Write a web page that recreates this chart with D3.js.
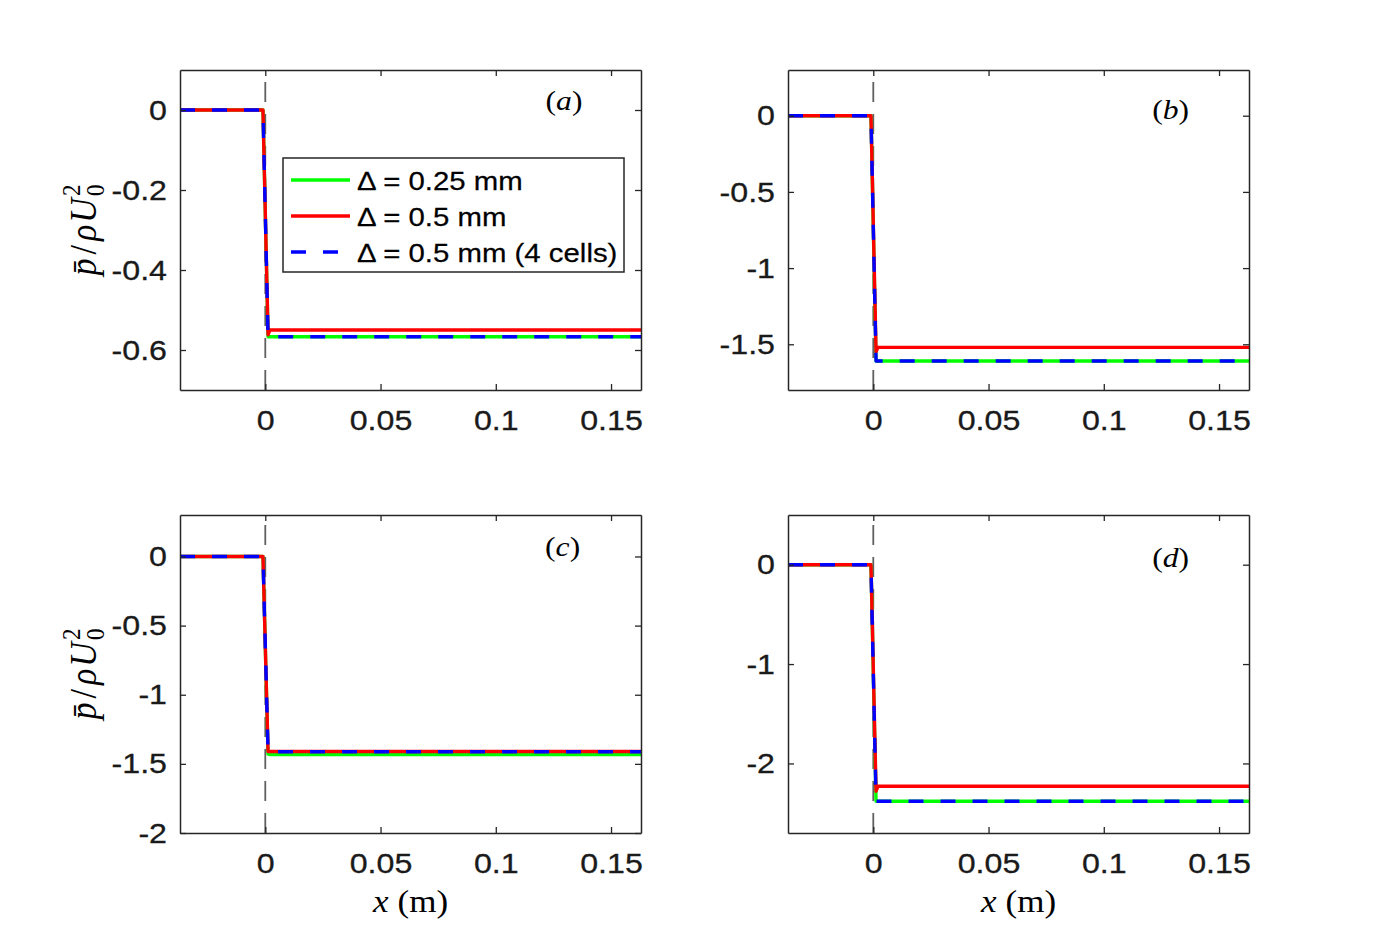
<!DOCTYPE html>
<html>
<head>
<meta charset="utf-8">
<script src="https://cdn.jsdelivr.net/npm/d3@7"></script>
<style>
body { margin: 0; background: #fff; }
</style>
</head>
<body>
<script>
// x grid shared by all pressure profiles (m)
var xPts = [-0.037, -0.001, 0.0012, 0.002, 0.163];

// mean pressure p/rhoU0^2 for each panel, one array per mesh
var greenA = [0, 0, -0.567, -0.567, -0.567];
var redA   = [0, 0, -0.562, -0.550, -0.550];
var blueA  = [0, 0, -0.567, -0.567, -0.567];

var greenB = [0, 0, -1.61, -1.61, -1.61];
var redB   = [0, 0, -1.55, -1.52, -1.52];
var blueB  = [0, 0, -1.61, -1.61, -1.61];

var greenC = [0, 0, -1.43, -1.433, -1.433];
var redC   = [0, 0, -1.41, -1.41, -1.41];
var blueC  = [0, 0, -1.41, -1.412, -1.412];

var greenD = [0, 0, -2.38, -2.38, -2.38];
var redD   = [0, 0, -2.28, -2.23, -2.23];
var blueD  = [0, 0, -2.38, -2.38, -2.38];

var legendNames = ["\u0394 = 0.25 mm", "\u0394 = 0.5 mm", "\u0394 = 0.5 mm (4 cells)"];

var xDomain = [-0.037, 0.163];
var xTicks = [0, 0.05, 0.1, 0.15];
var xTickLabels = ["0", "0.05", "0.1", "0.15"];

var yDomA = [-0.7, 0.1], yTicksA = [0, -0.2, -0.4, -0.6], yLabA = ["0", "-0.2", "-0.4", "-0.6"];
var yDomB = [-1.8, 0.3], yTicksB = [0, -0.5, -1, -1.5], yLabB = ["0", "-0.5", "-1", "-1.5"];
var yDomC = [-2, 0.3], yTicksC = [0, -0.5, -1, -1.5, -2], yLabC = ["0", "-0.5", "-1", "-1.5", "-2"];
var yDomD = [-2.7, 0.5], yTicksD = [0, -1, -2], yLabD = ["0", "-1", "-2"];

var w = 1380, h = 936;
var sx = 1.13;           // the original figure is slightly stretched sideways
var ink = "#262626";
var sans = "'Liberation Sans', Arial, Helvetica, sans-serif";
var serif = "'Liberation Serif', 'Times New Roman', serif";

var panels = [
  {id: "a", box: [180, 641, 70, 390],  yDom: yDomA, yTicks: yTicksA, yLab: yLabA,
   g: greenA, r: redA, b: blueA, tag: [0.1296, 0.02], ylabel: true, xlabel: false, legend: true},
  {id: "b", box: [788, 1249, 70, 390], yDom: yDomB, yTicks: yTicksB, yLab: yLabB,
   g: greenB, r: redB, b: blueB, tag: [0.129, 0.033], ylabel: false, xlabel: false, legend: false},
  {id: "c", box: [180, 641, 515, 833], yDom: yDomC, yTicks: yTicksC, yLab: yLabC,
   g: greenC, r: redC, b: blueC, tag: [0.129, 0.058], ylabel: true, xlabel: true, legend: false},
  {id: "d", box: [788, 1249, 515, 833], yDom: yDomD, yTicks: yTicksD, yLab: yLabD,
   g: greenD, r: redD, b: blueD, tag: [0.129, 0.06], ylabel: false, xlabel: true, legend: false}
];

var svg = d3.select("body")
  .append("svg")
  .attr("width", w)
  .attr("height", h);

function drawPanel(p) {
  var left = p.box[0], right = p.box[1], top = p.box[2], bottom = p.box[3];
  var x = d3.scaleLinear().domain(xDomain).range([left, right]);
  var y = d3.scaleLinear().domain(p.yDom).range([bottom, top]);
  var g = svg.append("g");

  g.append("clipPath").attr("id", "clip" + p.id)
    .append("rect")
    .attr("x", left).attr("y", top)
    .attr("width", right - left).attr("height", bottom - top);

  // dashed line at the step
  g.append("line")
    .attr("x1", x(0)).attr("x2", x(0))
    .attr("y1", bottom).attr("y2", top)
    .attr("stroke", "#444")
    .attr("stroke-opacity", 0.85)
    .attr("stroke-width", 1.8)
    .attr("stroke-dasharray", "20,12");

  var line = d3.line()
    .x(function(d, i) { return x(xPts[i]); })
    .y(function(d) { return y(d); });

  var series = [
    {v: p.g, c: "#00ff00", dash: null},
    {v: p.r, c: "#ff0000", dash: null},
    {v: p.b, c: "#0000ff", dash: "15,17"}
  ];
  g.append("g").attr("clip-path", "url(#clip" + p.id + ")")
    .selectAll("path")
    .data(series)
    .enter()
    .append("path")
    .attr("d", function(d) { return line(d.v); })
    .attr("fill", "none")
    .attr("stroke", function(d) { return d.c; })
    .attr("stroke-width", 3.4)
    .attr("stroke-linejoin", "round")
    .attr("stroke-dasharray", function(d) { return d.dash; });

  // box with inward ticks on all sides
  function styleAxis(a) {
    a.select(".domain").attr("stroke", ink).attr("stroke-width", 1.5);
    a.selectAll(".tick line").attr("stroke", ink).attr("stroke-width", 1.3);
    a.selectAll("text")
      .attr("fill", "#1a1a1a")
      .attr("font-family", sans)
      .attr("font-size", 28.5)
      .attr("stroke", "#1a1a1a")
      .attr("stroke-width", 0.3)
      .attr("transform", "scale(" + sx + ",1)");
  }
  g.append("g")
    .attr("transform", "translate(0," + bottom + ")")
    .call(d3.axisBottom(x).tickValues(xTicks).tickSize(-6).tickSizeOuter(0)
      .tickPadding(20).tickFormat(function(d, i) { return xTickLabels[i]; }))
    .call(styleAxis);
  g.append("g")
    .attr("transform", "translate(0," + top + ")")
    .call(d3.axisTop(x).tickValues(xTicks).tickSize(-6).tickSizeOuter(0)
      .tickFormat(function() { return ""; }))
    .call(styleAxis);
  g.append("g")
    .attr("transform", "translate(" + left + ",0)")
    .call(d3.axisLeft(y).tickValues(p.yTicks).tickSize(-6).tickSizeOuter(0)
      .tickPadding(11.5).tickFormat(function(d, i) { return p.yLab[i]; }))
    .call(styleAxis);
  g.append("g")
    .attr("transform", "translate(" + right + ",0)")
    .call(d3.axisRight(y).tickValues(p.yTicks).tickSize(-6).tickSizeOuter(0)
      .tickFormat(function() { return ""; }))
    .call(styleAxis);

  // panel tag (a), (b) ...
  var tag = g.append("text")
    .attr("transform", "translate(" + x(p.tag[0]) + "," + (y(p.tag[1]) + 8) + ") scale(" + sx + ",1)")
    .attr("text-anchor", "middle")
    .attr("font-family", serif)
    .attr("font-size", 28)
    .attr("fill", "#000");
  tag.append("tspan").text("(");
  tag.append("tspan").attr("font-style", "italic").text(p.id);
  tag.append("tspan").text(")");

  if (p.ylabel) {
    var yl = g.append("text")
      .attr("transform", "translate(96," + (top + bottom) / 2 + ") rotate(-90) scale(1," + sx + ")")
      .attr("text-anchor", "middle")
      .attr("font-family", serif)
      .attr("font-size", 34)
      .attr("fill", "#000");
    yl.append("tspan").attr("font-style", "italic").text("p\u0304");
    yl.append("tspan").attr("dx", 4).text("/");
    yl.append("tspan").attr("dx", 4).attr("font-style", "italic").text("\u03c1");
    yl.append("tspan").attr("dx", 2).attr("font-style", "italic").text("U");
    yl.append("tspan").attr("dx", 2).attr("dy", -14).attr("font-size", 23).text("2");
    yl.append("tspan").attr("dx", -11.5).attr("dy", 21).attr("font-size", 23).text("0");
  }

  if (p.xlabel) {
    var xl = g.append("text")
      .attr("transform", "translate(" + (left + right) / 2 + ",912) scale(" + sx + ",1)")
      .attr("text-anchor", "middle")
      .attr("font-family", serif)
      .attr("font-size", 31)
      .attr("fill", "#000");
    xl.append("tspan").attr("font-style", "italic").text("x");
    xl.append("tspan").attr("dx", 8).text("(m)");
  }

  if (p.legend) {
    var lx = left + 103, ly = top + 88;
    var lg = g.append("g").attr("transform", "translate(" + lx + "," + ly + ")");
    lg.append("rect")
      .attr("width", 341).attr("height", 114)
      .attr("fill", "#fff")
      .attr("stroke", ink)
      .attr("stroke-width", 1.5);
    var rows = lg.selectAll(".row")
      .data(series)
      .enter()
      .append("g")
      .attr("class", "row")
      .attr("transform", function(d, i) { return "translate(0," + (22 + i * 36) + ")"; });
    rows.append("line")
      .attr("x1", 8).attr("x2", 67)
      .attr("stroke", function(d) { return d.c; })
      .attr("stroke-width", 3.4)
      .attr("stroke-dasharray", function(d) { return d.dash; });
    rows.append("text")
      .attr("transform", "translate(74,10) scale(" + sx + ",1)")
      .attr("font-family", sans)
      .attr("font-size", 26)
      .attr("fill", "#000")
      .attr("stroke", "#000")
      .attr("stroke-width", 0.25)
      .text(function(d, i) { return legendNames[i]; });
  }
}

panels.forEach(drawPanel);
</script>
</body>
</html>
